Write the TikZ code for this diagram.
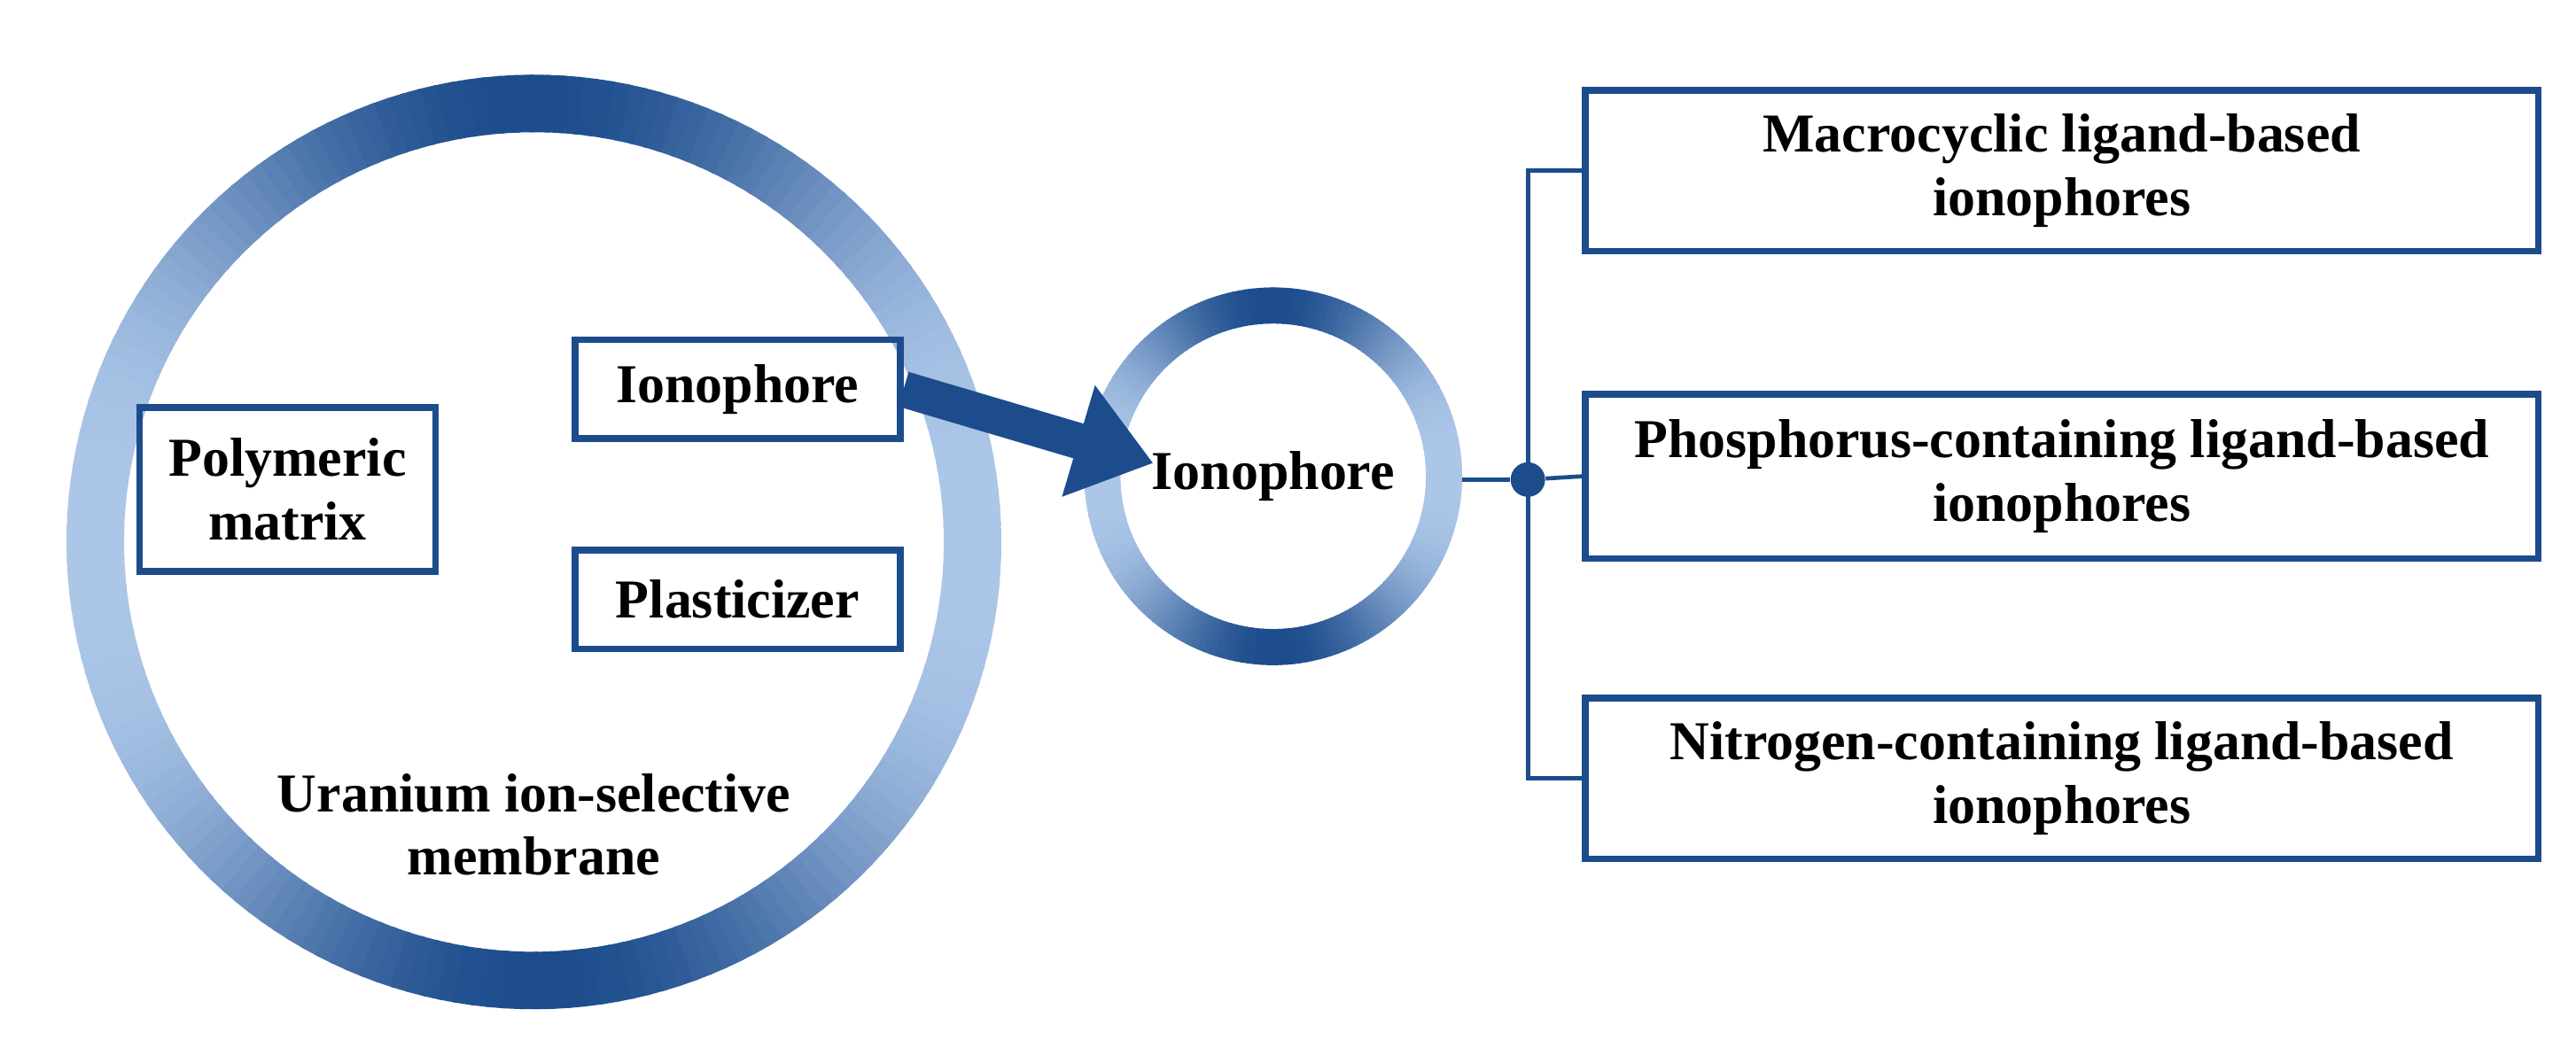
\documentclass[tikz,border=0pt]{standalone}
\usepackage{fontspec}
\setmainfont{Liberation Serif}
\usetikzlibrary{arrows.meta}
\definecolor{dk}{RGB}{28,76,140}
\definecolor{lt}{RGB}{172,198,232}
\begin{document}
\begin{tikzpicture}[x=0.02cm,y=-0.02cm,
  txt/.style={font=\fontsize{19}{22}\selectfont\bfseries,align=center},
  box/.style={draw=dk,line width=0.08cm,inner sep=0pt,txt},
  ln/.style={draw=dk,line width=0.05cm}]
\useasboundingbox (0,0) rectangle (1568,638);
\fill[white] (0,0) rectangle (1568,638);
% big ring
\begin{scope}[shift={(325,330)},x=0.02cm,y=0.02cm]
\foreach \a in {0,2,...,358}{
  \pgfmathsetmacro\m{100*abs(sin(\a))^3}
  \draw[line width=0.7cm,color=dk!\m!lt] (\a:267) arc[start angle=\a,end angle=\a+2.6,radius=267];
}
\end{scope}
% small ring
\begin{scope}[shift={(775,290)},x=0.02cm,y=0.02cm]
\foreach \a in {0,2,...,358}{
  \pgfmathsetmacro\m{100*abs(sin(\a))^3}
  \draw[line width=0.44cm,color=dk!\m!lt] (\a:104) arc[start angle=\a,end angle=\a+2.6,radius=104];
}
\end{scope}
\node[box,minimum width=3.6cm,minimum height=2cm] (pm) at (175,298) {Polymeric\\matrix};
\node[box,minimum width=3.96cm,minimum height=1.2cm] (io) at (449,237) {Ionophore};
\node[box,minimum width=3.96cm,minimum height=1.2cm] (pl) at (449,365) {Plasticizer};
\node[txt] (um) at (325,502) {Uranium ion-selective\\membrane};
\node[txt] (ion) at (775,290) {Ionophore};
\coordinate (ae) at (702,282);
\draw[dk,line width=0.44cm,-{Triangle[length=0.95cm,width=1.35cm]}] (io.east) -- (ae);
\coordinate (re) at (890,292);
\node[circle,fill=dk,minimum size=0.42cm,inner sep=0pt] (dot) at (930,292) {};
\node[box,minimum width=11.6cm,minimum height=1.96cm] (b1) at (1255,104) {Macrocyclic ligand-based\\ionophores};
\node[box,minimum width=11.6cm,minimum height=2cm] (b2) at (1255,290) {Phosphorus-containing ligand-based\\ionophores};
\node[box,minimum width=11.6cm,minimum height=1.96cm] (b3) at (1255,474) {Nitrogen-containing ligand-based\\ionophores};
\draw[ln] (re) -- (dot);
\draw[ln] (b1.west) -- (930,104) -- (930,474) -- (b3.west);
\draw[ln] (dot) -- (b2.west);
\end{tikzpicture}
\end{document}
